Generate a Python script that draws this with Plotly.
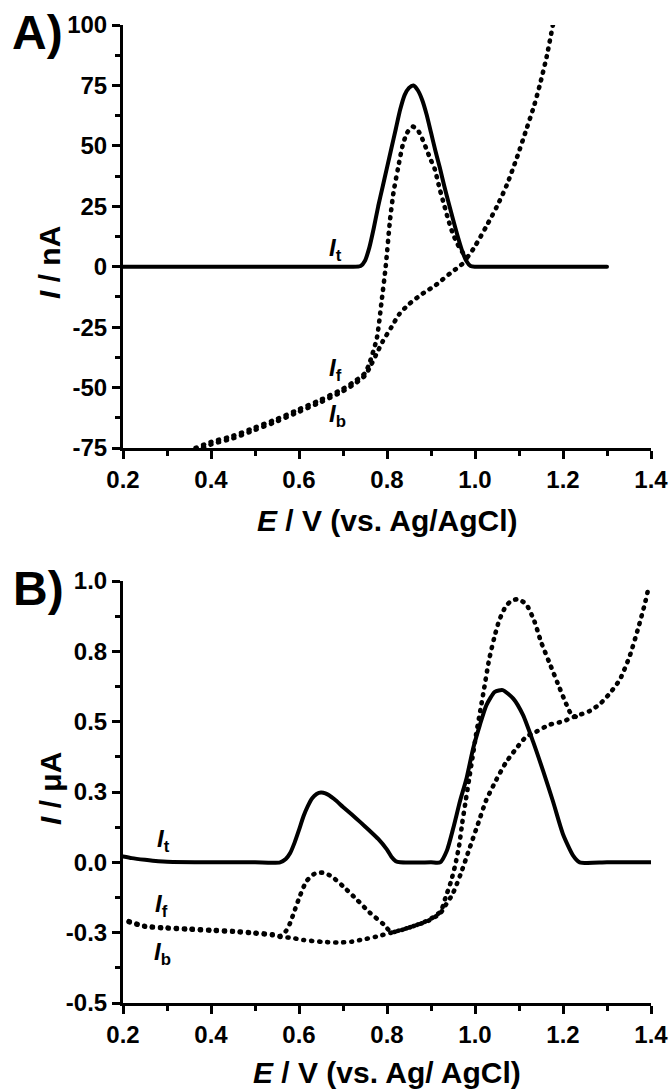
import plotly.graph_objects as go

# ---------------- Panel A data (E / V, I / nA) ----------------
A_E_t = [0.20, 0.30, 0.40, 0.50, 0.60, 0.70, 0.72, 0.74, 0.75, 0.76, 0.77, 0.78, 0.79, 0.80,
         0.81, 0.82, 0.83, 0.84, 0.85, 0.86, 0.87, 0.88, 0.89, 0.90, 0.91, 0.92, 0.93, 0.94,
         0.95, 0.96, 0.97, 0.98, 0.99, 1.00, 1.05, 1.10, 1.20, 1.30]
A_I_t = [0, 0, 0, 0, 0, 0, 0, 0.3, 2.5, 8, 16, 25, 33, 41,
         49, 57, 65, 71, 74, 75, 73, 69, 63, 55.5, 48, 41, 33.5, 26.5,
         19.6, 13, 7, 2.5, 0.3, 0, 0, 0, 0, 0]

A_E_f = [0.365, 0.40, 0.45, 0.50, 0.55, 0.60, 0.65, 0.70, 0.73, 0.75, 0.76, 0.777, 0.787, 0.797,
         0.807, 0.815, 0.825, 0.836, 0.846, 0.858, 0.87, 0.88, 0.89, 0.90, 0.908, 0.92, 0.93,
         0.939, 0.95, 0.96, 0.973, 0.982, 1.00, 1.026, 1.05, 1.072, 1.095, 1.118, 1.135, 1.148,
         1.163, 1.177]
A_I_f = [-75, -72.5, -70, -66.5, -63, -59, -55, -50.5, -47, -44, -40, -29.5, -15.4, 0,
         19.6, 31, 40.7, 50.5, 55.5, 58, 56.5, 53, 48.5, 44, 40.7, 32, 25.5,
         19.6, 13.5, 9.5, 5.6, 4, 8.5, 16.8, 25, 33.7, 45, 57.5, 67, 75.7,
         87, 100]

A_E_b = [0.365, 0.40, 0.45, 0.50, 0.55, 0.60, 0.65, 0.70, 0.73, 0.75, 0.76, 0.775, 0.79, 0.81,
         0.828, 0.85, 0.87, 0.89, 0.905, 0.925, 0.943, 0.96, 0.977, 0.982]
A_I_b = [-76, -73.5, -71, -67.5, -64, -60, -56, -51.5, -48, -45, -42, -36.5, -31, -25,
         -19.6, -15.5, -12.6, -10, -8.4, -5.5, -2.8, -0.5, 2.1, 4]

A_yticks = [-75, -50, -25, 0, 25, 50, 75, 100]
A_yticktext = ["-75", "-50", "-25", "0", "25", "50", "75", "100"]

# ---------------- Panel B data (E / V, I / uA) ----------------
B_E_t = [0.20, 0.22, 0.25, 0.28, 0.30, 0.40, 0.50, 0.557, 0.57, 0.58, 0.59, 0.60, 0.61, 0.62,
         0.63, 0.64, 0.65, 0.66, 0.68, 0.70, 0.72, 0.74, 0.76, 0.78, 0.80, 0.81, 0.82, 0.83,
         0.90, 0.921, 0.936, 0.951, 0.966, 0.981, 0.996, 1.011, 1.026, 1.045, 1.063, 1.087,
         1.109, 1.132, 1.155, 1.177, 1.20, 1.223, 1.238, 1.30, 1.40]
B_V_t = [0.021, 0.015, 0.009, 0.004, 0.002, 0.0, 0.0, 0.0, 0.012, 0.033, 0.07, 0.115, 0.163, 0.20,
         0.228, 0.243, 0.248, 0.245, 0.225, 0.197, 0.170, 0.142, 0.113, 0.083, 0.045, 0.02, 0.004, 0.0,
         0.0, 0.0, 0.041, 0.124, 0.218, 0.30, 0.406, 0.488, 0.559, 0.606, 0.612, 0.582,
         0.524, 0.429, 0.324, 0.218, 0.10, 0.024, 0.0, 0.0, 0.0]

B_E_f = [0.213, 0.25, 0.30, 0.35, 0.40, 0.45, 0.50, 0.54, 0.557, 0.57, 0.58, 0.591, 0.602, 0.617,
         0.636, 0.655, 0.674, 0.70, 0.731, 0.761, 0.792, 0.81, 0.85, 0.895, 0.922, 0.933, 0.945,
         0.955, 0.964, 0.971, 0.979, 0.987, 0.994, 1.002, 1.011, 1.021, 1.032, 1.044, 1.055,
         1.07, 1.083, 1.098, 1.116, 1.135, 1.15, 1.169, 1.188, 1.204, 1.219, 1.234]
B_V_f = [-0.209, -0.226, -0.232, -0.236, -0.24, -0.244, -0.25, -0.256, -0.262, -0.245, -0.215,
         -0.167, -0.12, -0.067, -0.04, -0.037, -0.05, -0.085, -0.132, -0.179, -0.22, -0.248,
         -0.232, -0.205, -0.174, -0.125, -0.07, -0.01, 0.06, 0.14, 0.22, 0.30, 0.37, 0.45, 0.53,
         0.62, 0.72, 0.80, 0.86, 0.91, 0.93, 0.935, 0.918, 0.857, 0.784, 0.71, 0.636, 0.575,
         0.526, 0.514]

B_E_b = [0.213, 0.25, 0.30, 0.35, 0.40, 0.45, 0.50, 0.54, 0.557, 0.58, 0.61, 0.655, 0.69, 0.72,
         0.746, 0.776, 0.81, 0.85, 0.895, 0.922, 0.929, 0.949, 0.968, 0.987, 1.006, 1.025, 1.048,
         1.07, 1.093, 1.116, 1.139, 1.169, 1.20, 1.23, 1.261, 1.284, 1.306, 1.329, 1.352, 1.371,
         1.386, 1.395]
B_V_b = [-0.212, -0.229, -0.235, -0.239, -0.243, -0.247, -0.253, -0.259, -0.265, -0.268, -0.276,
         -0.283, -0.285, -0.282, -0.274, -0.264, -0.25, -0.232, -0.207, -0.18, -0.162, -0.113,
         -0.039, 0.047, 0.133, 0.219, 0.292, 0.354, 0.403, 0.446, 0.464, 0.489, 0.501, 0.52,
         0.538, 0.563, 0.60, 0.649, 0.735, 0.833, 0.919, 0.98]

B_yticks = [-0.5, -0.25, 0.0, 0.25, 0.5, 0.75, 1.0]
B_yticktext = ["-0.5", "-0.3", "0.0", "0.3", "0.5", "0.8", "1.0"]

X_ticks = [0.2, 0.4, 0.6, 0.8, 1.0, 1.2, 1.4]
X_ticktext = ["0.2", "0.4", "0.6", "0.8", "1.0", "1.2", "1.4"]

X_TITLE_A = "<b><i>E</i> / V (vs. Ag/AgCl)</b>"
X_TITLE_B = "<b><i>E</i> / V (vs. Ag/ AgCl)</b>"
Y_TITLE_A = "<b><i>I</i> / nA</b>"
Y_TITLE_B = "<b><i>I</i> / \u03bcA</b>"

# ---------------- figure ----------------
W, H = 671, 1089
FONT = "Liberation Sans, Arial, sans-serif"

solid = dict(color="black", width=4, shape="spline", smoothing=0.6)
dotted = dict(color="black", width=4.6, dash="1px,7px", shape="spline", smoothing=0.6)

fig = go.Figure()
fig.add_trace(go.Scatter(x=A_E_t, y=A_I_t, mode="lines", line=solid, xaxis="x", yaxis="y"))
fig.add_trace(go.Scatter(x=A_E_f, y=A_I_f, mode="lines", line=dotted, xaxis="x", yaxis="y"))
fig.add_trace(go.Scatter(x=A_E_b, y=A_I_b, mode="lines", line=dotted, xaxis="x", yaxis="y"))
fig.add_trace(go.Scatter(x=B_E_t, y=B_V_t, mode="lines", line=solid, xaxis="x2", yaxis="y2"))
fig.add_trace(go.Scatter(x=B_E_f, y=B_V_f, mode="lines", line=dotted, xaxis="x2", yaxis="y2"))
fig.add_trace(go.Scatter(x=B_E_b, y=B_V_b, mode="lines", line=dotted, xaxis="x2", yaxis="y2"))

def px_x(p):
    return p / W

def px_y(p):
    return 1 - p / H

def bold(lst):
    return ["<b>%s</b>" % s for s in lst]

tickfont = dict(family=FONT, size=24, color="black")
axis_common = dict(showline=True, linewidth=3, linecolor="black", ticks="outside",
                   ticklen=8, tickwidth=2.5, tickcolor="black", showgrid=False,
                   zeroline=False, tickfont=tickfont, automargin=False)
xdom = [px_x(123), px_x(651)]
xminor = dict(tickmode="linear", tick0=0.2, dtick=0.1, ticklen=5, tickwidth=2.5,
              ticks="outside", tickcolor="black")

fig.update_layout(
    template="none",
    width=W, height=H, margin=dict(l=0, r=0, t=0, b=0, pad=0, autoexpand=False),
    paper_bgcolor="white", plot_bgcolor="white", showlegend=False,
    font=dict(family=FONT, color="black"),
    xaxis=dict(domain=xdom, anchor="y", range=[0.2, 1.4], tickmode="array",
               tickvals=X_ticks, ticktext=bold(X_ticktext), minor=xminor, **axis_common),
    yaxis=dict(domain=[px_y(448), px_y(25)], anchor="x", range=[-75, 100],
               tickmode="array", tickvals=A_yticks, ticktext=bold(A_yticktext),
               minor=dict(tickmode="linear", tick0=0, dtick=12.5, ticklen=5, tickwidth=2.5,
                          ticks="outside", tickcolor="black"),
               **axis_common),
    xaxis2=dict(domain=xdom, anchor="y2", range=[0.2, 1.4], tickmode="array",
                tickvals=X_ticks, ticktext=bold(X_ticktext), minor=xminor, **axis_common),
    yaxis2=dict(domain=[px_y(1003), px_y(581)], anchor="x2", range=[-0.5, 1.0],
                tickmode="array", tickvals=B_yticks, ticktext=bold(B_yticktext),
                minor=dict(tickmode="linear", tick0=0, dtick=0.125, ticklen=5, tickwidth=2.5,
                           ticks="outside", tickcolor="black"),
                **axis_common),
)

ann = []
title_font = dict(family=FONT, size=30, color="black")
ann.append(dict(text=X_TITLE_A, xref="paper", yref="paper", x=px_x(387), y=px_y(520),
                xanchor="center", yanchor="middle", showarrow=False, font=title_font))
ann.append(dict(text=X_TITLE_B, xref="paper", yref="paper", x=px_x(387), y=px_y(1072),
                xanchor="center", yanchor="middle", showarrow=False, font=title_font))
ann.append(dict(text=Y_TITLE_A, xref="paper", yref="paper", x=px_x(50), y=px_y(263),
                xanchor="center", yanchor="middle", textangle=-90, showarrow=False,
                font=title_font))
ann.append(dict(text=Y_TITLE_B, xref="paper", yref="paper", x=px_x(50), y=px_y(789),
                xanchor="center", yanchor="middle", textangle=-90, showarrow=False,
                font=title_font))
panel_font = dict(family=FONT, size=48, color="black")
ann.append(dict(text="<b>A)</b>", xref="paper", yref="paper", x=px_x(10), y=px_y(4),
                xanchor="left", yanchor="top", showarrow=False, font=panel_font))
ann.append(dict(text="<b>B)</b>", xref="paper", yref="paper", x=px_x(11), y=px_y(560),
                xanchor="left", yanchor="top", showarrow=False, font=panel_font))

lab_font = dict(family=FONT, size=24, color="black")
def curve_label(sub, x, y, xr, yr):
    return dict(text="<b><i>I</i><sub>%s</sub></b>" % sub, xref=xr, yref=yr, x=x, y=y,
                xanchor="left", yanchor="middle", showarrow=False, font=lab_font)

ann.append(curve_label("t", 0.664, 7, "x", "y"))
ann.append(curve_label("f", 0.664, -42.6, "x", "y"))
ann.append(curve_label("b", 0.664, -61.6, "x", "y"))
ann.append(curve_label("t", 0.273, 0.076, "x2", "y2"))
ann.append(curve_label("f", 0.268, -0.155, "x2", "y2"))
ann.append(curve_label("b", 0.266, -0.325, "x2", "y2"))

fig.update_layout(annotations=ann)

post = """
document.body.style.margin = '0';
document.querySelectorAll('path.js-line').forEach(function(p){
  p.style.strokeLinecap = 'round';
  p.style.strokeLinejoin = 'round';
});
"""
fig.write_html("out.html", post_script=post, config={"displayModeBar": False})
